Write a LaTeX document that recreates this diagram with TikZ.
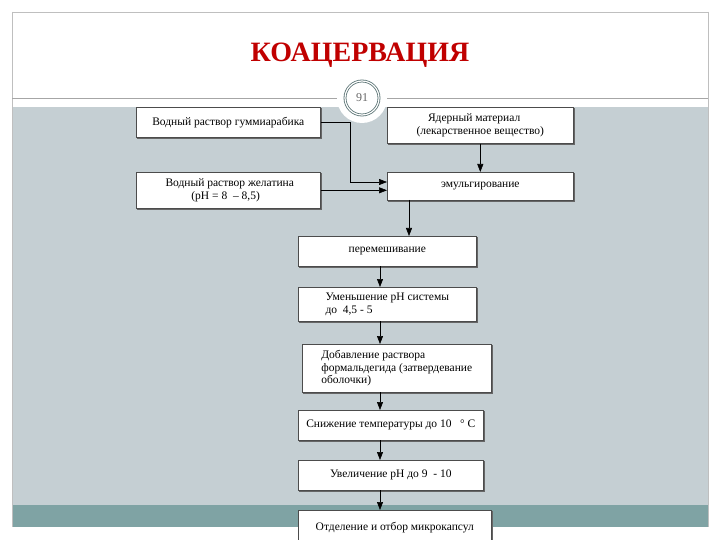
\documentclass[tikz,border=0pt]{standalone}
\usepackage{fontspec}
\setmainfont{Liberation Serif}
\usetikzlibrary{arrows.meta}
\definecolor{bg}{HTML}{C5CFD3}
\definecolor{band}{HTML}{7FA3A4}
\definecolor{ttl}{HTML}{C00000}
\begin{document}
\begin{tikzpicture}[x=1pt,y=-1pt,
 box/.style={draw=black!70,fill=white,line width=0.6pt,inner sep=2pt},
 arr/.style={-{Triangle[length=8pt,width=6pt]},line width=0.6pt}]
\useasboundingbox (0,0) rectangle (720,540);
\fill[white] (0,0) rectangle (720,540);
\fill[bg] (12,107) rectangle (708,505);
\fill[band] (12,505) rectangle (708,527);
\draw[black!25] (12,12) -- (12,527) (708,12) -- (708,527) (12,12) -- (708,12);
\draw[black!35] (12,98) -- (708,98);
\node[font=\bfseries\fontsize{28}{30}\selectfont,text=ttl] (t) at (360,55) {КОАЦЕРВАЦИЯ};
\fill[white] (362,98) circle (25);
\node[circle,draw=band!70!black,double=white,double distance=1.2pt,line width=0.8pt,minimum size=34pt,inner sep=0pt,fill=white,font=\fontsize{12}{13}\selectfont,text=black!60] (n) at (362,98) {91};
\newcommand{\bx}[6]{\draw[black!60,line width=1.2pt] (#2+1.5,#3+1.5) rectangle (#4+1.5,#5+1.5);
 \node[box,minimum width=#4-#2,minimum height=#5-#3,anchor=north west] (#1) at (#2,#3) {};
 \node[font=\fontsize{11.5}{12.5}\selectfont,align=left,anchor=center] (#1t) at (#1.center) {#6};}
\bx{A}{136}{107}{320}{137}{Водный раствор гуммиарабика}
\bx{B}{387}{107}{573}{143}{\quad Ядерный материал\\(лекарственное вещество)}
\bx{C}{136}{172}{320}{208}{\ Водный раствор желатина\\\qquad\ \ (pH = 8 \ -- 8,5)}
\bx{D}{387}{172}{573}{200}{эмульгирование}
\bx{E}{298}{236}{476}{266}{перемешивание}
\bx{F}{298}{287}{476}{321}{Уменьшение pH системы\\ до \ 4,5 - 5}
\bx{G}{302}{344}{491}{392}{Добавление раствора\\формальдегида (затвердевание\\оболочки)}
\bx{H}{298}{410}{483}{440}{Снижение температуры до 10 \ \ ° C}
\bx{I}{298}{460}{483}{490}{Увеличение pH до 9 \ - 10}
\bx{J}{298}{510}{491}{545}{Отделение и отбор микрокапсул}
\draw[arr] (A.east) -| (350,182) -- (387,182);
\draw[arr] (C.east) -- (D.west|-C.east);
\draw[arr] (B.south) -- (D.north);
\draw[arr] (409,200) -- (409,236);
\draw[arr] (380,266) -- (380,287);
\draw[arr] (380,321) -- (380,344);
\draw[arr] (380,392) -- (380,410);
\draw[arr] (380,440) -- (380,460);
\draw[arr] (380,490) -- (380,510);
\end{tikzpicture}
\end{document}
